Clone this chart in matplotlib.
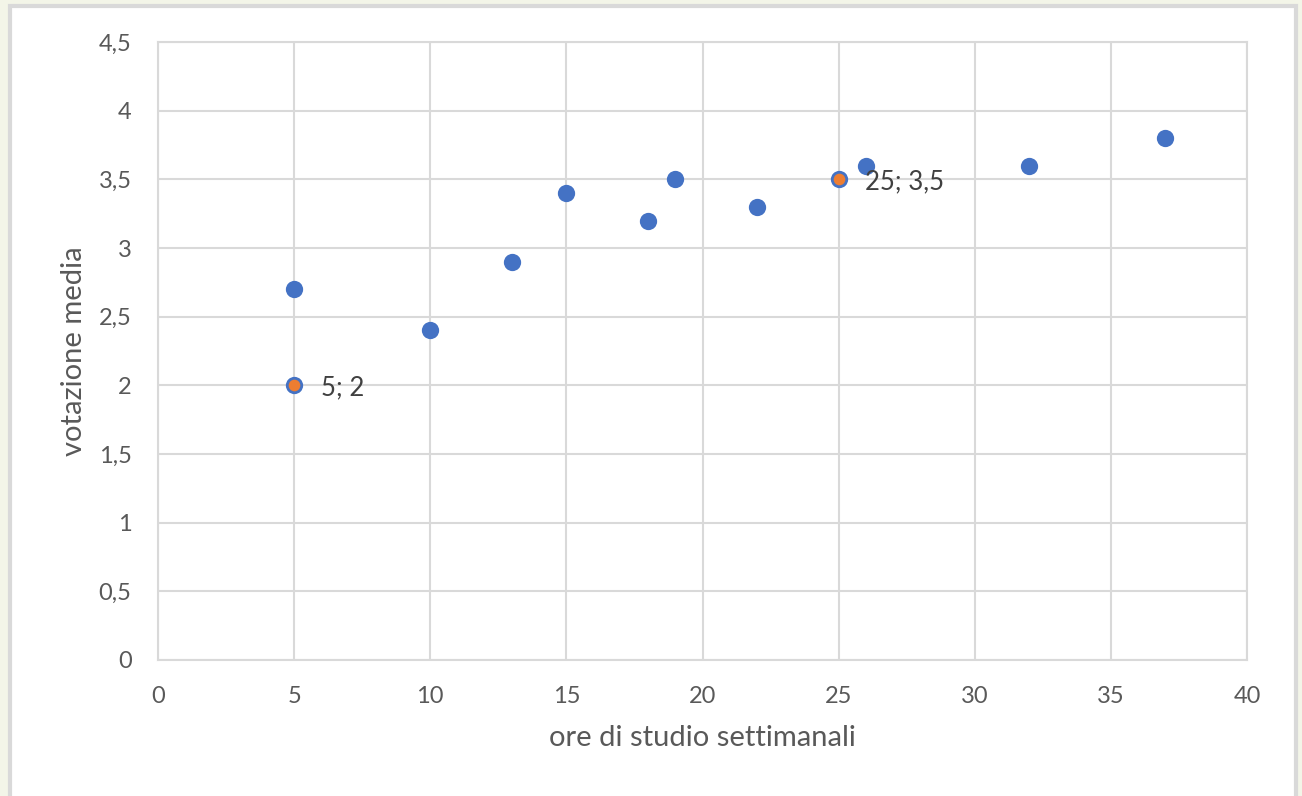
import matplotlib.pyplot as plt
from matplotlib.patches import Rectangle
from matplotlib.ticker import FuncFormatter, MultipleLocator

# weekly study hours vs. average grade
ore = [5, 5, 10, 13, 15, 18, 19, 22, 25, 26, 32, 37]
voto = [2.7, 2.0, 2.4, 2.9, 3.4, 3.2, 3.5, 3.3, 3.5, 3.6, 3.6, 3.8]

# highlighted points with data labels
ore_sel = [5, 25]
voto_sel = [2.0, 3.5]

BLUE = "#4472C4"
ORANGE = "#ED7D31"
GRID = "#D9D9D9"
TEXT = "#595959"

plt.rcParams["font.family"] = ["Lato", "DejaVu Sans"]

fig = plt.figure(figsize=(13.02, 7.96), dpi=100)
fig.patch.set_facecolor("#F3F5E8")
# white chart panel with light grey frame, kept behind the axes
fig.patches.append(Rectangle((10 / 1302, -0.05), 1286 / 1302, 1 - 6 / 796 + 0.05,
                             transform=fig.transFigure, facecolor="white",
                             edgecolor=GRID, linewidth=3, zorder=-1))

ax = fig.add_axes([158 / 1302, 1 - 660 / 796, (1247 - 158) / 1302, (660 - 42) / 796])
ax.set_facecolor("white")
ax.set_xlim(0, 40)
ax.set_ylim(0, 4.5)
ax.xaxis.set_major_locator(MultipleLocator(5))
ax.yaxis.set_major_locator(MultipleLocator(0.5))

fmt = FuncFormatter(lambda v, _: f"{v:g}".replace(".", ","))
ax.xaxis.set_major_formatter(fmt)
ax.yaxis.set_major_formatter(fmt)

ax.grid(True, color=GRID, linewidth=1.5, zorder=0)
ax.set_axisbelow(True)
for s in ax.spines.values():
    s.set_color(GRID)
    s.set_linewidth(1.5)
ax.tick_params(length=0, labelsize=17, labelcolor=TEXT)
ax.tick_params(axis="x", pad=19)
ax.tick_params(axis="y", pad=19)

ax.scatter(ore, voto, s=155, color=BLUE, zorder=3, clip_on=False, linewidths=0)
ax.scatter(ore_sel, voto_sel, s=70, color=ORANGE, zorder=4, linewidths=0)
for x, y in zip(ore_sel, voto_sel):
    ax.annotate(f"{x}; {y:g}".replace(".", ","), (x, y), xytext=(19, -2),
                textcoords="offset points", va="center", ha="left",
                fontsize=18.5, color="#404040", zorder=5)

ax.set_xlabel("ore di studio settimanali", fontsize=21, color=TEXT, labelpad=13)
ax.set_ylabel("votazione media", fontsize=21, color=TEXT, labelpad=8)

fig.savefig("out.png", dpi=100, facecolor=fig.get_facecolor())
